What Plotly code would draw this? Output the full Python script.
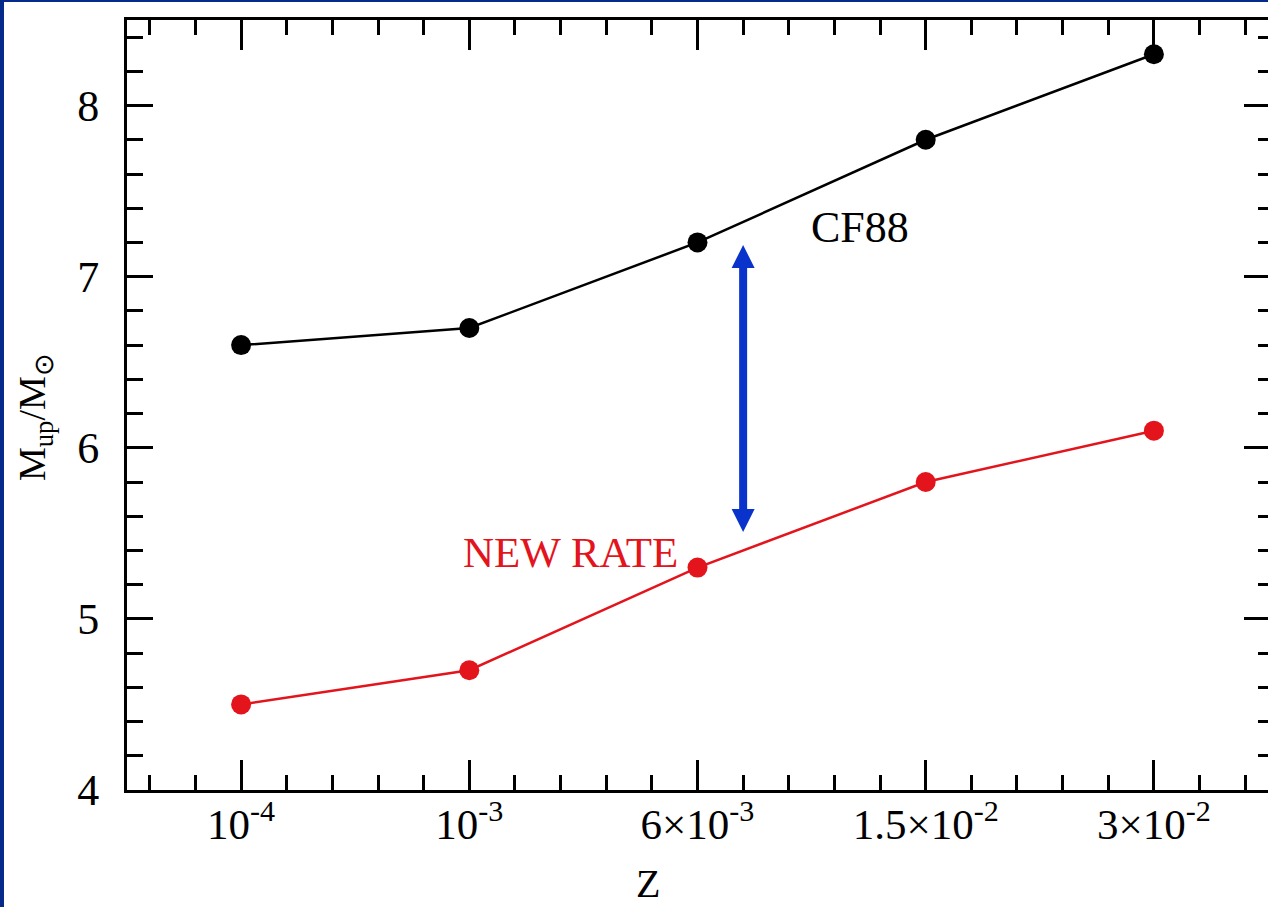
import plotly.graph_objects as go

# ---- data ----
z_labels = ["10<sup>-4</sup>", "10<sup>-3</sup>", "6×10<sup>-3</sup>",
            "1.5×10<sup>-2</sup>", "3×10<sup>-2</sup>"]
z_pos = [0, 1, 2, 3, 4]
cf88 = [6.6, 6.7, 7.2, 7.8, 8.3]
new_rate = [4.5, 4.7, 5.3, 5.8, 6.1]
y_ticks = [4, 5, 6, 7, 8]

# ---- styling / layout constants ----
W, H = 1268, 907
ML, MR, MT, MB = 127, 0, 20, 117
XR = [-0.5, 4.5]
YR = [4, 8.5]
FONT = "Liberation Serif, Times New Roman, serif"
BLUE_BG = "#062a8c"
RED = "#e3141c"
ARROW_BLUE = "#0a33cc"

fig = go.Figure()

fig.add_trace(go.Scatter(x=z_pos, y=cf88, mode="lines+markers",
                         line=dict(color="black", width=2.5),
                         marker=dict(color="black", size=20),
                         showlegend=False, hoverinfo="skip"))
fig.add_trace(go.Scatter(x=z_pos, y=new_rate, mode="lines+markers",
                         line=dict(color=RED, width=2.5),
                         marker=dict(color=RED, size=20),
                         showlegend=False, hoverinfo="skip"))
# invisible trace to anchor the mirrored axes
fig.add_trace(go.Scatter(x=[z_pos[0]], y=[y_ticks[0]], xaxis="x2", yaxis="y2",
                         mode="markers", marker=dict(opacity=0),
                         showlegend=False, hoverinfo="skip"))

# plot-area pixel helpers for paper coords
pw = W - ML - MR
ph = H - MT - MB
def px(xp):
    return (xp - ML) / pw
def py(yp):
    return (H - MB - yp) / ph

shapes = []
# white panel over the blue page
shapes.append(dict(type="rect", xref="paper", yref="paper",
                   x0=px(4), x1=px(W + 10), y0=py(H + 10), y1=py(2),
                   fillcolor="white", line=dict(width=0), layer="below"))

# double-headed arrow (annotation)
ax = 2.2
a_top, a_bot = 7.185, 5.508
head_len = 23 / (ph / (YR[1] - YR[0]))
head_hw = 11.5 / (pw / (XR[1] - XR[0]))
shapes.append(dict(type="line", xref="x", yref="y", x0=ax, x1=ax,
                   y0=a_bot + head_len * 0.9, y1=a_top - head_len * 0.9,
                   line=dict(color=ARROW_BLUE, width=8)))
shapes.append(dict(type="path", xref="x", yref="y",
                   path=f"M {ax-head_hw},{a_top-head_len} L {ax+head_hw},{a_top-head_len} L {ax},{a_top} Z",
                   fillcolor=ARROW_BLUE, line=dict(width=0)))
shapes.append(dict(type="path", xref="x", yref="y",
                   path=f"M {ax-head_hw},{a_bot+head_len} L {ax+head_hw},{a_bot+head_len} L {ax},{a_bot} Z",
                   fillcolor=ARROW_BLUE, line=dict(width=0)))

annotations = [
    dict(text="CF88", x=2.713, y=7.285, xref="x", yref="y", showarrow=False,
         font=dict(family=FONT, size=44, color="black")),
    dict(text="NEW RATE", x=1.442, y=5.39, xref="x", yref="y", showarrow=False,
         font=dict(family=FONT, size=43, color=RED)),
    dict(text="M<sub>up</sub>/M<sub>⊙</sub>", x=px(35), y=py(417),
         xref="paper", yref="paper", showarrow=False, textangle=-90,
         xanchor="center", yanchor="middle",
         font=dict(family=FONT, size=38, color="black")),
    dict(text="Z", x=px(648), y=py(883), xref="paper", yref="paper",
         showarrow=False, xanchor="center", yanchor="middle",
         font=dict(family=FONT, size=40, color="black")),
]

common_x = dict(range=XR, showgrid=False, zeroline=False,
                tickmode="array", tickvals=z_pos,
                ticks="inside", ticklen=30, tickwidth=3, tickcolor="black",
                minor=dict(tickmode="linear", tick0=0, dtick=0.2, ticks="inside",
                           ticklen=15, tickwidth=3, tickcolor="black", showgrid=False))
common_y = dict(range=YR, showgrid=False, zeroline=False,
                tickmode="array", tickvals=y_ticks,
                ticks="inside", tickwidth=3, tickcolor="black",
                minor=dict(tickmode="linear", tick0=4, dtick=0.2, ticks="inside",
                           tickwidth=3, tickcolor="black", showgrid=False))

fig.update_layout(
    width=W, height=H,
    margin=dict(l=ML, r=MR, t=MT, b=MB, pad=0),
    paper_bgcolor=BLUE_BG, plot_bgcolor="white",
    showlegend=False,
    xaxis=dict(**common_x, ticktext=z_labels, showline=True, linewidth=3,
               linecolor="black", ticklabelstandoff=-6,
               tickfont=dict(family=FONT, size=43, color="black")),
    yaxis=dict(**common_y, ticklen=26, showline=True, linewidth=3,
               linecolor="black", ticklabelstandoff=16,
               tickfont=dict(family=FONT, size=44, color="black")),
    xaxis2=dict(**common_x, overlaying="x", side="top", anchor="y",
                showticklabels=False, showline=True, linewidth=3,
                linecolor="black"),
    yaxis2=dict(**{k: v for k, v in common_y.items() if k != "minor"},
                minor=dict(tickmode="linear", tick0=4, dtick=0.2, ticks="inside",
                           ticklen=10, tickwidth=3, tickcolor="black", showgrid=False),
                ticklen=24, overlaying="y", side="right", anchor="x",
                showticklabels=False, showline=False),
    shapes=shapes,
    annotations=annotations,
)

fig.write_html("out.html")
